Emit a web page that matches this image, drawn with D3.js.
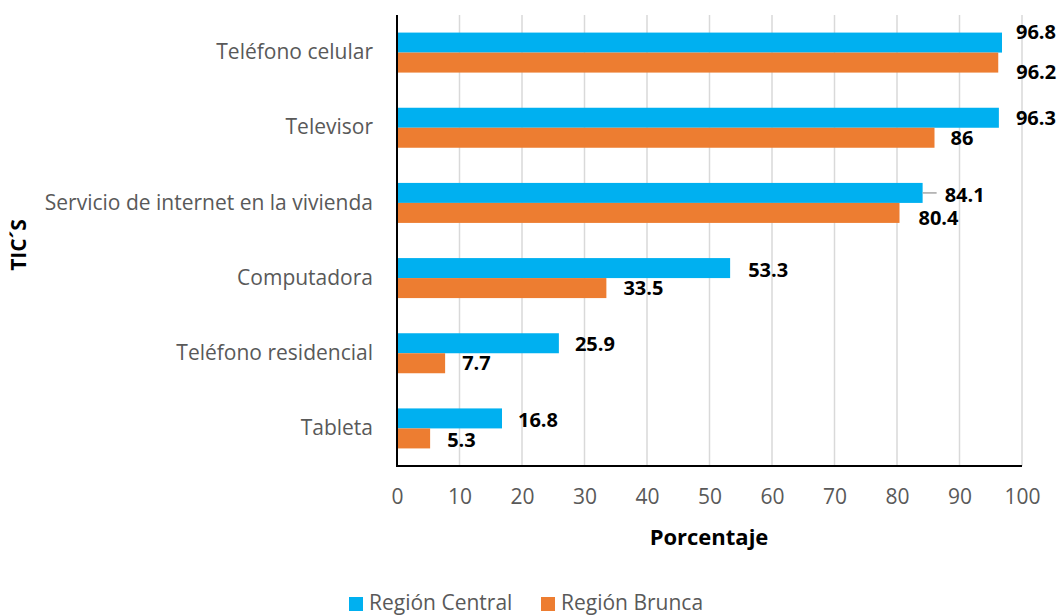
<!DOCTYPE html>
<html><head><meta charset="utf-8">
<script src="https://cdn.jsdelivr.net/npm/d3@7"></script>
<style>body{margin:0;background:#fff}svg{display:block}text{font-family:"Open Sans",sans-serif}</style>
</head><body>
<svg id="c" width="1062" height="616"></svg>
<script>
const categories = ["Teléfono celular","Televisor","Servicio de internet en la vivienda","Computadora","Teléfono residencial","Tableta"];
const seriesNames = ["Región Central","Región Brunca"];
const central = [96.8,96.3,84.1,53.3,25.9,16.8];
const brunca = [96.2,86,80.4,33.5,7.7,5.3];
const xTicks = [0,10,20,30,40,50,60,70,80,90,100];
const colors = ["#00B0F0","#ED7D31"];
// label nudges [dx,dy] (style)
const nudgeC = [[-2,-11],[1,0],[6,2],[2,2],[0,1],[0,2]];
const nudgeB = [[2,9],[0,0],[3,5],[1,0],[1,0],[1,2]];

const svg = d3.select("#c");
const L = 397, R = 1022, T = 15, B = 466;
const x = d3.scaleLinear().domain([0,100]).range([L,R]);
const y = d3.scaleBand().domain(categories).range([T,B]).paddingInner(0).paddingOuter(0);
const inner = d3.scaleBand().domain([0,1]).range([0, 40]);
const off = (y.bandwidth()-40)/2;

// gridlines
svg.append("g").selectAll("line").data(xTicks.filter(d=>d>0)).join("line")
  .attr("x1",d=>x(d)).attr("x2",d=>x(d)).attr("y1",T).attr("y2",B)
  .attr("stroke","#d9d9d9").attr("stroke-width",1.5);

const data = categories.map((c,i)=>({c, vals:[central[i],brunca[i]], i}));
const g = svg.append("g");
data.forEach(d=>{
  d.vals.forEach((v,s)=>{
    const yy = y(d.c)+off+inner(s);
    g.append("rect").attr("x",x(0)).attr("y",yy).attr("width",x(v)-x(0)).attr("height",inner.bandwidth())
      .attr("fill",colors[s]);
    const n = s===0?nudgeC[d.i]:nudgeB[d.i];
    g.append("text").attr("x",x(v)+16+n[0]).attr("y",yy+inner.bandwidth()/2+n[1]).attr("dy","0.35em")
      .attr("font-size",20).attr("font-weight","bold").attr("fill","#000").text(v);
  });
});
// leader line for 84.1
{
  const i = 2; const yy = y(categories[i])+off+inner(0)+inner.bandwidth()/2;
  svg.append("line").attr("x1",x(central[i])).attr("x2",x(central[i])+14).attr("y1",yy).attr("y2",yy)
    .attr("stroke","#a6a6a6").attr("stroke-width",1.5);
}

// axes lines
svg.append("line").attr("x1",L).attr("x2",L).attr("y1",T).attr("y2",B).attr("stroke","#000").attr("stroke-width",2);
svg.append("line").attr("x1",L-1).attr("x2",R).attr("y1",B).attr("y2",B).attr("stroke","#000").attr("stroke-width",2);

// x tick labels
const xa = d3.axisBottom(x).tickValues(xTicks).tickSize(0).tickPadding(0);
const xg = svg.append("g").attr("transform",`translate(0,${B+31})`).call(xa);
xg.select(".domain").remove();
xg.selectAll("text").attr("font-size",21).attr("fill","#595959").attr("font-family","Open Sans").attr("dy","0.35em");

// y category labels
const ya = d3.axisLeft(y).tickSize(0).tickPadding(0);
const yg = svg.append("g").attr("transform",`translate(${L-24},0)`).call(ya);
yg.select(".domain").remove();
yg.selectAll("text").attr("font-size",21).attr("fill","#595959").attr("font-family","Open Sans");

// axis titles
svg.append("text").attr("x",709).attr("y",537).attr("dy","0.35em").attr("text-anchor","middle")
  .attr("font-size",22).attr("font-weight","bold").text("Porcentaje");
svg.append("text").attr("transform","translate(19,245) rotate(-90)").attr("dy","0.35em").attr("text-anchor","middle")
  .attr("font-size",21).attr("font-weight","bold").text("TIC´S");

// legend
const leg = svg.append("g");
const legX = [349, 541];
seriesNames.forEach((n,i)=>{
  leg.append("rect").attr("x",legX[i]).attr("y",597).attr("width",14).attr("height",14).attr("fill",colors[i]);
  leg.append("text").attr("x",legX[i]+20).attr("y",610).attr("font-size",21).attr("fill","#595959").text(n);
});
</script>
</body></html>
